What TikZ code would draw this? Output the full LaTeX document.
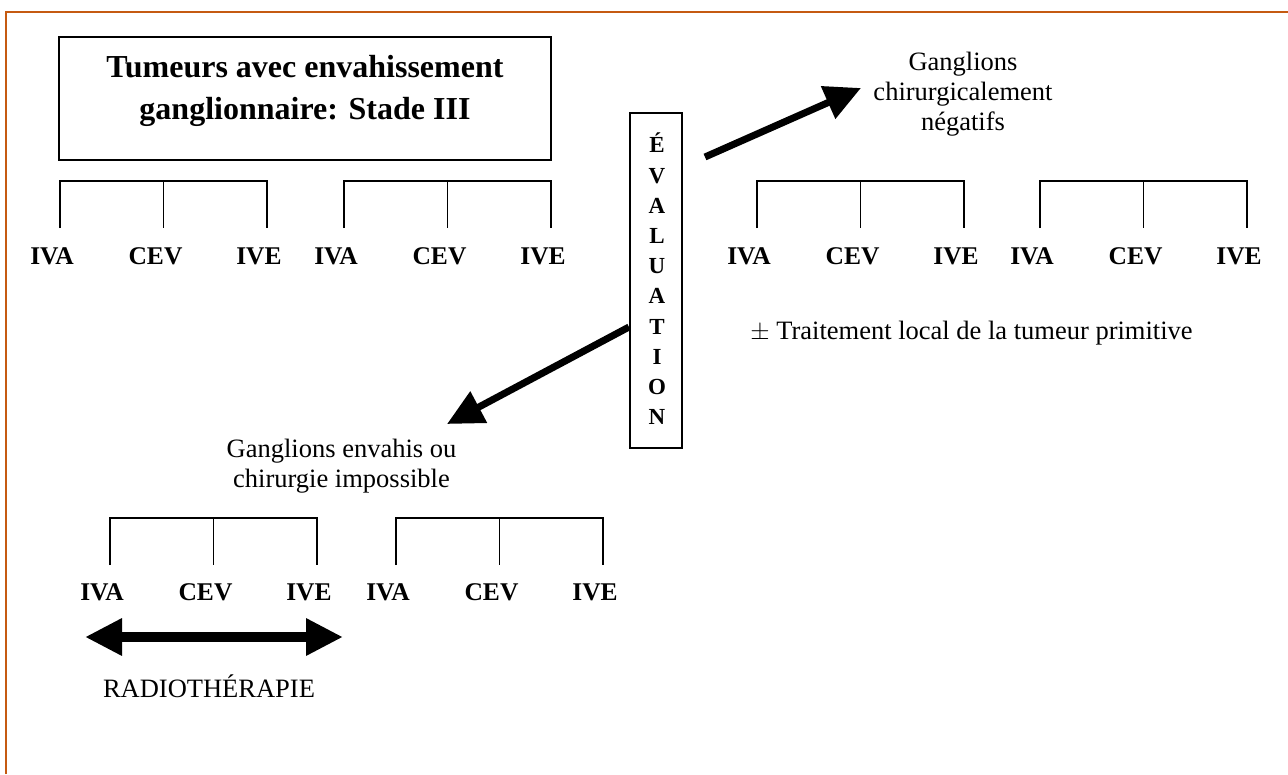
\documentclass[tikz,border=0pt]{standalone}
\usepackage{fontspec}
\setmainfont{Liberation Serif}
\usetikzlibrary{arrows.meta}
\definecolor{framecol}{RGB}{197,90,17}
\begin{document}
\begin{tikzpicture}[x=1pt,y=-1pt,
  lbl/.style={font=\fontsize{25.5}{30}\selectfont\bfseries, anchor=base, inner sep=0pt},
  txt/.style={font=\fontsize{26.5}{30}\selectfont, align=center, inner sep=0pt},
  brk/.style={line width=1.3pt},
  boxed/.style={draw, line width=1.4pt, inner sep=0pt},
  bigarrow/.style={line width=7pt, -{Triangle[length=36pt,width=34pt]}},
  dblarrow/.style={line width=10pt, {Triangle[length=37pt,width=35pt]}-{Triangle[length=37pt,width=35pt]}}
]
\useasboundingbox (0,0) rectangle (1288,774);
\draw[framecol, line width=2.2pt] (6,774) -- (6,12) -- (1288,12);

% title
\node[boxed, minimum width=492, minimum height=123] (title) at (305,98.5) {};
\node[font=\fontsize{32}{42}\selectfont\bfseries, align=center, inner sep=0pt] (titletxt) at (305,90.7)
  {Tumeurs avec envahissement\\ganglionnaire: Stade III};

% bracket groups
\foreach \x/\y/\b/\n in {60/181/264/ga, 344/181/264/gb, 757/181/264/gc, 1040/181/264/gd, 110/518/600/ge, 396/518/600/gf}{
  \draw[brk] (\x,\y+47) -- (\x,\y) -- (\x+207,\y) -- (\x+207,\y+47);
  \draw[brk] (\x+103.5,\y) -- (\x+103.5,\y+47);
  \node[lbl] (\n-iva) at (\x-8,\b) {IVA};
  \node[lbl] (\n-cev) at (\x+95.5,\b) {CEV};
  \node[lbl] (\n-ive) at (\x+199,\b) {IVE};
}

% evaluation box
\node[boxed, minimum width=52, minimum height=335] (eval) at (656,280.5) {};
\node[font=\fontsize{23}{30.2}\selectfont\bfseries, align=center, inner sep=0pt] (evaltxt) at (657,279)
  {É\\V\\A\\L\\U\\A\\T\\I\\O\\N};

% texts
\node[txt] (neg) at (963,94) {Ganglions\\chirurgicalement\\négatifs};
\node[txt] (env) at (341.5,466) {Ganglions envahis ou\\chirurgie impossible};
\node[txt, anchor=base] (trait) at (971.5,339) {$\pm$ Traitement local de la tumeur primitive};
\node[txt, anchor=base] (radio) at (209,697) {RADIOTHÉRAPIE};

% arrows
\coordinate (up-s) at (705,157);
\coordinate (up-e) at (861,88);
\draw[bigarrow] (up-s) -- (up-e);
\coordinate (dn-s) at (629,327);
\coordinate (dn-e) at (447,424);
\draw[bigarrow] (dn-s) -- (dn-e);
\coordinate (rl) at (85,637);
\coordinate (rr) at (343,637);
\draw[dblarrow] (rl) -- (rr);
\end{tikzpicture}
\end{document}
